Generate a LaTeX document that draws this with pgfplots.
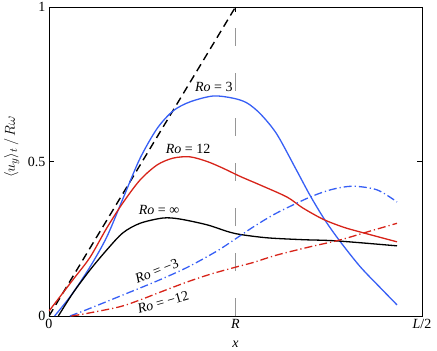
\documentclass[border=0pt]{standalone}
\usepackage{pgfplots}
\pgfplotsset{compat=1.18}
\usetikzlibrary{calc}
\usepackage{fontspec}
\setmainfont{Liberation Serif}
\definecolor{cblue}{RGB}{55,95,245}
\definecolor{cred}{RGB}{215,35,25}
\definecolor{cgray}{RGB}{150,150,150}
\begin{document}
\begin{tikzpicture}
\begin{axis}[
  scale only axis,
  width=373pt, height=309pt,
  xmin=0, xmax=1, ymin=0, ymax=1,
  xtick={0,0.5,1}, xticklabels={0,\textit{R},\textit{L}/2},
  ytick={0,0.5,1}, yticklabels={0,0.5,1},
  tick align=inside, major tick length=5pt,
  /pgf/number format/assume math mode=true,
  axis line style={line width=0.9pt},
  every tick/.style={black, line width=0.8pt},
  tick label style={font=\fontsize{14}{16}\selectfont},
  xlabel={\textit{x}}, ylabel={$\langle u_y\rangle_t\,/\,R\omega$},
  xlabel style={font=\fontsize{14}{16}\selectfont, at={(axis description cs:0.5,-0.07)}, anchor=north},
  ylabel style={font=\fontsize{15}{17}\selectfont, at={(axis description cs:-0.1,0.547)}, anchor=center},
  clip=true,
]
\coordinate (bl) at (rel axis cs:0,0);
\coordinate (tr) at (rel axis cs:1,1);
% vertical line at x = R
\addplot[cgray, line width=1.1pt, dash pattern=on 18pt off 27pt] coordinates {(0.5,0) (0.5,1)};
% u = omega x
\addplot[black, line width=1.4pt, dash pattern=on 8pt off 5pt] coordinates {(0,0) (0.5,1)};

% Ro = 3
\addplot[cblue, line width=1.3pt, smooth] coordinates {
(0.015,0) (0.06,0.068) (0.11,0.159) (0.155,0.256) (0.2,0.385) (0.244,0.51)
(0.29,0.607) (0.333,0.664) (0.378,0.693) (0.44,0.712) (0.493,0.705) (0.53,0.69)
(0.566,0.655) (0.61,0.59) (0.66,0.48) (0.70,0.39) (0.74,0.31) (0.78,0.242)
(0.834,0.16) (0.887,0.093) (0.933,0.036)};
% Ro = 12
\addplot[cred, line width=1.3pt, smooth] coordinates {
(0,0.016) (0.064,0.117) (0.11,0.19) (0.155,0.285) (0.198,0.366) (0.244,0.44)
(0.29,0.489) (0.333,0.511) (0.378,0.515) (0.424,0.5) (0.467,0.478) (0.512,0.452)
(0.566,0.424) (0.638,0.385) (0.68,0.35) (0.735,0.313) (0.788,0.288) (0.834,0.272)
(0.933,0.24)};
% Ro = infinity
\addplot[black, line width=1.3pt, smooth] coordinates {
(0.025,0) (0.064,0.074) (0.11,0.149) (0.155,0.214) (0.198,0.269) (0.244,0.30)
(0.305,0.317) (0.35,0.314) (0.424,0.295) (0.477,0.274) (0.512,0.264) (0.585,0.253)
(0.68,0.247) (0.772,0.243) (0.933,0.227)};
% Ro = -3
\addplot[cblue, line width=1.3pt, smooth, dash pattern=on 8pt off 3pt on 1.2pt off 3pt] coordinates {
(0.056,0) (0.1,0.02) (0.198,0.068) (0.289,0.113) (0.37,0.157) (0.45,0.21)
(0.503,0.252) (0.55,0.29) (0.61,0.333) (0.70,0.385) (0.76,0.41) (0.815,0.42)
(0.88,0.408) (0.933,0.369)};
% Ro = -12
\addplot[cred, line width=1.3pt, smooth, dash pattern=on 8pt off 3pt on 1.2pt off 3pt] coordinates {
(0.06,0) (0.1,0.008) (0.19,0.03) (0.244,0.052) (0.3,0.078) (0.37,0.11) (0.432,0.135)
(0.5,0.158) (0.547,0.173) (0.61,0.197) (0.7,0.224) (0.78,0.246) (0.853,0.272)
(0.933,0.30)};

\begin{scope}[every node/.style={font=\fontsize{14}{16}\selectfont}]
\node at (axis cs:0.442,0.741) {\textit{Ro} = 3};
\node at (axis cs:0.373,0.54) {\textit{Ro} = 12};
\node at (axis cs:0.295,0.343) {\textit{Ro} = ∞};
\node[rotate=22] at (axis cs:0.289,0.146) {\textit{Ro} = −3};
\node[rotate=16] at (axis cs:0.306,0.045) {\textit{Ro} = −12};
\end{scope}
\end{axis}
\pgfresetboundingbox
\path[use as bounding box] ($(bl)+(-49pt,-35pt)$) rectangle ($(tr)+(15pt,7pt)$);
\end{tikzpicture}
\end{document}
